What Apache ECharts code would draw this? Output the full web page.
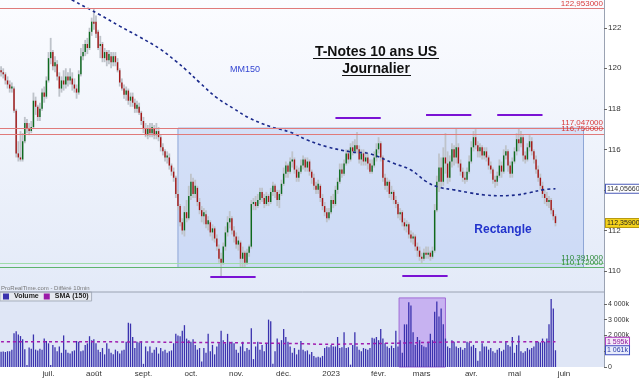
<!DOCTYPE html>
<html>
<head>
<meta charset="utf-8">
<script src="https://cdn.jsdelivr.net/npm/echarts@6/dist/echarts.min.js"></script>
<style>
  html, body { margin: 0; padding: 0; background: #fff; }
  #main { width: 639px; height: 378px; }
</style>
</head>
<body>
<div id="main"></div>
<script>
// jours ouvrés depuis le 1er juin 2022 (dernière bougie = index 257)
const startDate = '2022-06-01'
const dayCount = 280
const monthNames = ['janv.', 'févr.', 'mars', 'avr.', 'mai', 'juin', 'juil.', 'août', 'sept.', 'oct.', 'nov.', 'déc.']

const opens = [
  119.9, 119.8, 119.7, 119.4, 119.2, 119.0, 119.0, 117.9, 115.8, 115.6,
  115.5, 116.4, 117.3, 117.0, 116.9, 117.1, 118.4, 118.1, 117.6, 118.0,
  118.8, 118.6, 119.4, 120.5, 120.8, 120.1, 120.2, 119.6, 119.0, 119.4,
  119.2, 119.6, 119.4, 119.5, 119.2, 119.0, 118.8, 119.7, 120.6, 120.8,
  121.2, 121.0, 121.8, 122.3, 122.3, 121.8, 121.1, 121.2, 120.5, 120.8,
  120.4, 120.6, 120.3, 120.6, 120.3, 119.9, 119.3, 119.0, 118.7, 118.9,
  118.4, 118.6, 118.3, 118.0, 118.1, 117.8, 117.4, 117.0, 116.7, 117.0,
  116.8, 117.0, 116.7, 116.9, 116.6, 116.1, 115.9, 115.6, 115.6, 115.2,
  114.9, 114.6, 113.8, 113.2, 112.4, 112.0, 112.9, 112.6, 113.7, 114.4,
  113.8, 114.1, 113.4, 113.0, 112.7, 112.8, 112.3, 112.4, 111.9, 112.1,
  111.6, 111.1, 110.6, 110.4, 111.2, 111.9, 112.4, 112.6, 112.0, 111.7,
  111.3, 111.4, 110.6, 110.9, 110.4, 110.9, 111.2, 113.3, 113.4, 113.2,
  113.5, 113.9, 113.6, 113.3, 113.7, 113.4, 113.9, 114.2, 113.9, 113.5,
  113.8, 114.3, 114.8, 115.2, 114.9, 115.4, 115.5, 115.0, 114.6, 114.9,
  115.2, 115.5, 115.1, 115.4, 114.9, 114.6, 114.2, 114.0, 114.2, 113.6,
  113.2, 112.9, 112.6, 112.9, 113.5, 113.3, 114.0, 114.4, 115.0, 114.8,
  115.3, 115.8, 115.5, 116.1, 115.9, 116.2, 116.0, 115.5, 115.8, 115.4,
  115.6, 115.3, 114.9, 115.2, 115.6, 116.0, 116.3, 115.6, 114.6, 114.2,
  114.4, 113.8, 113.9, 113.5, 113.3, 112.8, 112.9, 112.4, 112.2, 112.3,
  111.8, 111.6, 111.7, 111.2, 111.0, 110.7, 110.6, 110.9, 110.8, 110.9,
  110.7, 111.0, 113.0, 114.4, 115.1, 114.4, 115.6, 115.3, 114.6, 115.4,
  116.0, 115.6, 116.1, 115.3, 114.9, 114.6, 114.5, 114.9, 115.4, 116.1,
  116.6, 116.2, 115.9, 116.1, 115.7, 115.9, 115.6, 115.2, 115.0, 114.5,
  114.4, 114.7, 115.2, 114.9, 115.7, 115.9, 115.2, 114.8, 115.4, 115.9,
  116.5, 116.3, 116.6, 115.7, 115.5, 116.1, 116.4, 115.9, 115.5, 115.0,
  114.6, 114.2, 113.8, 113.6, 113.4, 113.5, 113.0, 112.7
]
const closes = [
  119.8, 119.7, 119.4, 119.2, 119.0, 119.1, 117.9, 115.8, 115.6, 115.5,
  116.4, 117.3, 117.0, 116.9, 117.1, 118.4, 118.1, 117.6, 118.0, 118.8,
  118.6, 119.4, 120.5, 120.8, 120.1, 120.3, 119.6, 119.0, 119.4, 119.2,
  119.6, 119.4, 119.6, 119.2, 119.0, 118.8, 119.7, 120.6, 120.8, 121.2,
  121.0, 121.8, 122.3, 122.2, 121.7, 121.0, 121.2, 120.5, 120.8, 120.4,
  120.7, 120.3, 120.6, 120.3, 119.9, 119.3, 119.0, 118.7, 118.9, 118.4,
  118.6, 118.3, 118.0, 118.2, 117.8, 117.4, 117.0, 116.7, 117.0, 116.8,
  117.1, 116.7, 116.9, 116.6, 116.1, 115.9, 115.6, 115.7, 115.2, 114.9,
  114.6, 113.8, 113.2, 112.4, 112.0, 112.9, 112.6, 113.7, 114.4, 113.8,
  114.2, 113.4, 113.0, 112.7, 112.9, 112.3, 112.5, 111.9, 112.1, 111.6,
  111.2, 110.6, 110.4, 111.2, 111.9, 112.4, 112.6, 112.0, 111.7, 111.3,
  111.5, 110.6, 110.9, 110.4, 110.9, 111.2, 113.3, 113.4, 113.2, 113.5,
  113.9, 113.6, 113.3, 113.7, 113.4, 113.9, 114.2, 113.9, 113.5, 113.8,
  114.3, 114.8, 115.2, 114.9, 115.4, 115.5, 115.0, 114.6, 114.9, 115.2,
  115.5, 115.1, 115.4, 114.9, 114.6, 114.2, 114.0, 114.3, 113.6, 113.2,
  112.9, 112.6, 112.9, 113.5, 113.3, 114.0, 114.4, 115.0, 114.8, 115.3,
  115.8, 115.5, 116.1, 115.9, 116.2, 116.0, 115.5, 115.8, 115.4, 115.6,
  115.3, 114.9, 115.2, 115.6, 116.0, 116.3, 115.6, 114.6, 114.2, 114.4,
  113.8, 113.9, 113.5, 113.3, 112.8, 112.9, 112.4, 112.2, 112.3, 111.8,
  111.6, 111.7, 111.2, 111.0, 110.7, 110.6, 110.9, 110.8, 110.9, 110.7,
  111.0, 113.0, 114.4, 115.1, 114.4, 115.6, 115.3, 114.6, 115.4, 116.0,
  115.6, 116.1, 115.3, 114.9, 114.6, 114.5, 114.9, 115.4, 116.1, 116.6,
  116.2, 115.9, 116.1, 115.7, 115.9, 115.6, 115.2, 115.0, 114.5, 114.4,
  114.7, 115.2, 114.9, 115.7, 115.9, 115.2, 114.8, 115.4, 115.9, 116.5,
  116.3, 116.6, 115.7, 115.5, 116.1, 116.4, 115.9, 115.5, 115.0, 114.6,
  114.2, 113.8, 113.6, 113.4, 113.5, 113.0, 112.7, 112.359
]
const lows = [
  119.6, 119.5, 119.2, 119.0, 118.8, 118.8, 117.8, 115.6, 115.4, 115.4,
  115.4, 116.3, 116.8, 116.7, 116.8, 117.0, 117.7, 117.4, 117.4, 117.9,
  118.3, 118.5, 119.3, 120.2, 119.9, 119.8, 119.4, 118.6, 118.8, 118.9,
  119.0, 119.1, 119.2, 118.9, 118.8, 118.5, 118.7, 119.6, 120.4, 120.6,
  120.7, 120.9, 121.6, 121.9, 121.5, 120.9, 120.5, 120.3, 120.3, 120.1,
  120.2, 120.0, 120.1, 120.1, 119.8, 119.1, 118.9, 118.5, 118.4, 118.2,
  118.1, 118.1, 117.8, 117.8, 117.7, 117.2, 116.8, 116.6, 116.5, 116.6,
  116.6, 116.5, 116.5, 116.4, 115.9, 115.7, 115.4, 115.3, 115.0, 114.7,
  114.4, 113.6, 113.0, 112.2, 111.8, 111.7, 112.4, 112.5, 113.5, 113.6,
  113.6, 113.2, 112.8, 112.4, 112.3, 112.1, 112.0, 111.7, 111.5, 111.4,
  111.0, 110.4, 109.7, 110.3, 111.0, 111.7, 112.1, 111.8, 111.4, 111.1,
  111.0, 110.2, 110.15, 110.2, 110.3, 110.7, 111.1, 113.0, 113.0, 113.1,
  113.3, 113.4, 113.1, 113.2, 113.2, 113.3, 113.7, 113.6, 113.2, 113.1,
  113.7, 114.2, 114.6, 114.6, 114.8, 115.1, 114.8, 114.4, 114.4, 114.8,
  115.0, 114.9, 114.9, 114.7, 114.3, 114.0, 113.8, 113.8, 113.4, 113.0,
  112.7, 112.4, 112.5, 112.8, 113.1, 113.2, 113.8, 114.3, 114.6, 114.7,
  115.2, 115.3, 115.4, 115.7, 115.8, 115.8, 115.3, 115.2, 115.2, 115.2,
  115.0, 114.8, 114.8, 115.1, 115.4, 115.8, 115.4, 114.4, 114.0, 113.9,
  113.6, 113.5, 113.3, 113.1, 112.6, 112.5, 112.2, 112.0, 111.9, 111.6,
  111.4, 111.3, 111.0, 110.7, 110.5, 110.39, 110.5, 110.6, 110.6, 110.5,
  110.6, 110.9, 112.9, 113.9, 114.1, 114.2, 114.8, 114.3, 114.4, 115.1,
  115.2, 115.3, 115.1, 114.7, 114.4, 114.3, 114.4, 114.8, 115.3, 115.9,
  116.0, 115.6, 115.6, 115.5, 115.5, 115.4, 115.0, 114.8, 114.3, 114.1,
  114.2, 114.6, 114.6, 114.8, 115.5, 114.9, 114.6, 114.6, 115.3, 115.7,
  115.9, 116.1, 115.4, 115.3, 115.4, 115.9, 115.7, 115.3, 114.8, 114.4,
  114.0, 113.6, 113.3, 113.2, 113.1, 112.8, 112.5, 112.2
]
const highs = [
  120.1, 120.0, 119.8, 119.6, 119.4, 119.3, 119.1, 118.0, 116.4, 116.9,
  116.8, 117.6, 117.5, 117.3, 117.4, 118.8, 118.6, 118.2, 118.3, 119.0,
  119.1, 119.6, 120.8, 121.5, 120.9, 120.6, 120.4, 119.8, 119.6, 119.9,
  120.0, 119.8, 120.0, 119.8, 119.5, 119.2, 119.9, 121.0, 121.2, 121.4,
  121.5, 122.0, 122.5, 122.95, 122.6, 121.9, 121.6, 121.3, 121.0, 120.9,
  120.9, 120.8, 120.8, 120.8, 120.5, 120.0, 119.5, 119.2, 119.1, 119.0,
  118.8, 118.8, 118.5, 118.4, 118.3, 117.9, 117.6, 117.3, 117.2, 117.3,
  117.3, 117.2, 117.3, 117.1, 116.7, 116.3, 116.0, 115.9, 115.8, 115.3,
  115.1, 114.7, 114.0, 113.3, 112.6, 113.2, 113.5, 114.2, 114.8, 114.6,
  114.5, 114.2, 113.6, 113.2, 113.1, 113.0, 112.7, 112.5, 112.3, 112.2,
  111.8, 111.3, 110.9, 111.4, 112.2, 112.7, 112.95, 112.7, 112.2, 111.9,
  111.7, 111.5, 111.2, 111.0, 111.1, 111.3, 113.5, 113.6, 113.7, 113.8,
  114.1, 114.1, 113.8, 113.9, 113.8, 114.1, 114.4, 114.3, 114.0, 114.0,
  114.5, 115.1, 115.4, 115.3, 115.6, 115.9, 115.6, 115.2, 115.1, 115.5,
  115.7, 115.6, 115.6, 115.5, 115.0, 114.8, 114.4, 114.5, 114.3, 113.8,
  113.4, 113.1, 113.1, 113.7, 113.8, 114.2, 114.6, 115.3, 115.3, 115.5,
  116.0, 116.0, 116.3, 116.4, 116.5, 116.85, 116.2, 116.0, 116.0, 115.9,
  115.8, 115.5, 115.5, 115.9, 116.3, 116.6, 116.4, 115.7, 114.8, 114.6,
  114.5, 114.2, 114.0, 113.7, 113.4, 113.1, 113.0, 112.6, 112.5, 112.4,
  112.0, 111.9, 111.8, 111.4, 111.2, 110.9, 111.1, 111.2, 111.2, 111.0,
  111.2, 113.3, 114.7, 115.8, 115.6, 116.1, 116.8, 115.9, 115.7, 116.3,
  116.2, 117.05, 116.3, 115.5, 115.1, 114.9, 115.1, 115.7, 116.4, 116.9,
  117.0, 116.4, 116.3, 116.2, 116.1, 116.1, 115.7, 115.4, 115.1, 114.7,
  114.9, 115.5, 115.4, 116.0, 116.2, 116.0, 115.4, 115.6, 116.1, 116.8,
  117.05, 116.9, 116.7, 115.9, 116.3, 116.7, 116.6, 116.0, 115.7, 115.2,
  114.8, 114.4, 114.0, 113.9, 113.7, 113.6, 113.1, 112.8
]
// volume en milliers de contrats
const volumes = [
  960, 980, 950, 1000, 1000, 1100, 2130, 2270, 2060, 1960,
  1750, 1120, 120, 1230, 1150, 2060, 1100, 1050, 1150, 1100,
  1800, 1650, 1500, 120, 1400, 1250, 1000, 1300, 900, 2000,
  1100, 900, 850, 1000, 1050, 1650, 1600, 1000, 1050, 1400,
  1500, 1950, 1700, 1750, 1500, 1100, 950, 1200, 800, 1500,
  1150, 900, 800, 1100, 1000, 850, 1050, 1100, 1600, 2800,
  2750, 1900, 1200, 1600, 1550, 1650, 200, 1300, 1000, 1300,
  900, 1100, 1250, 850, 1200, 1000, 1100, 900, 1000, 1050,
  1500, 2100, 2000, 1950, 2300, 2650, 1800, 1700, 1600, 1750,
  1400, 1100, 1200, 350, 1200, 900, 2100, 1000, 1400, 800,
  1300, 1500, 2300, 1700, 1500, 2100, 1600, 1600, 1500, 1100,
  900, 1300, 1600, 1000, 1200, 1100, 2450, 500, 1300, 1600,
  1100, 1400, 1000, 1500, 3000, 2900, 200, 1000, 1800, 1500,
  1700, 2400, 1900, 1600, 1300, 900, 1200, 800, 1100, 1650,
  1100, 1000, 1050, 800, 950, 700, 600, 650, 600, 700,
  1200, 1300, 1250, 1400, 1300, 1300, 1900, 1200, 1250, 2200,
  1200, 1250, 150, 1400, 2200, 1300, 1100, 1000, 1200, 1150,
  1100, 1200, 1850, 1800, 1900, 1700, 2400, 1800, 1500, 1300,
  1200, 1350, 1200, 2300, 1300, 1700, 900, 2700, 2700, 4100,
  3900, 2200, 1400, 1900, 1700, 1400, 1300, 1250, 1600, 2100,
  1700, 3500, 4150, 3200, 3700, 2700, 1800, 1300, 1200, 1700,
  1600, 1300, 1200, 1250, 1100, 1200, 1600, 1550, 1300, 1400,
  1200, 400, 1000, 1500, 1300, 1300, 1100, 1200, 1000, 900,
  1100, 1200, 1000, 1100, 1600, 1400, 1300, 1900, 900, 1400,
  2000, 1000, 900, 1000, 1200, 1100, 1200, 1300, 1600, 1600,
  1550, 1800, 1600, 1800, 2700, 4300, 3700, 1061
]

// moyenne mobile 150 jours
const mmIdx = [28, 33, 46, 55, 64, 74, 81, 86, 92, 100, 108, 115, 125, 134, 142, 151, 162, 171, 182, 190, 197, 203, 210, 217, 224, 231, 239, 245, 251, 257]
const mmVal = [123.7, 123.37, 122.63, 122.08, 121.56, 120.93, 120.35, 119.9, 119.3, 118.55, 118.0, 117.55, 117.12, 116.85, 116.46, 116.13, 115.88, 115.78, 115.31, 114.98, 114.42, 114.13, 114.0, 113.86, 113.75, 113.71, 113.75, 113.86, 114.0, 114.0566]
// SMA 150 du volume
const volSmaIdx = [0, 69, 139, 148, 179, 210, 257]
const volSmaVal = [1606, 1580, 1480, 1440, 1500, 1580, 1595]

const priceTicks = [110, 112, 114, 116, 118, 120, 122]
const volTicks = [0, 1000, 2000, 3000, 4000]
const volLabels = [0, 2000, 3000, 4000]

// niveaux horizontaux
const resistances = [122.953, 117.047, 116.75]
const supports = [110.391, 110.172]

// rectangle et marques des sommets / creux (index de jour, niveau)
const rectFrom = [82, 117.047]
const rectTo = [270, 110.172]
const topMarks = [[155, 176, 117.56], [197, 218, 117.73], [230, 251, 117.73]]
const bottomMarks = [[97, 118, 109.69], [186, 207, 109.75]]
const volHighlight = [[185, 4375], [207, 0]]

const FONT = 'Liberation Sans, Arial, sans-serif'

const categories = []
const d = new Date(startDate + 'T00:00:00Z')
while (categories.length < dayCount) {
  const wd = d.getUTCDay()
  if (wd !== 0 && wd !== 6) categories.push(d.toISOString().slice(0, 10))
  d.setUTCDate(d.getUTCDate() + 1)
}
const monthStart = {}
categories.forEach((c, i) => {
  if (i > 0 && c.slice(5, 7) !== categories[i - 1].slice(5, 7)) {
    const m = +c.slice(5, 7)
    monthStart[i] = m === 1 ? c.slice(0, 4) : monthNames[m - 1]
  }
})

const candleData = closes.map((c, i) => [i, opens[i], c, lows[i], highs[i]])
const fmt = v => v.toFixed(6).replace('.', ',')
const fmtK = v => {
  const s = String(Math.round(v))
  return (s.length > 3 ? s.slice(0, -3) + ' ' + s.slice(-3) : s) + 'k'
}

function renderCandle (params, api) {
  const i = api.value(0)
  const o = api.value(1)
  const c = api.value(2)
  const top = api.coord([i, api.value(4)])
  const bot = api.coord([i, api.value(3)])
  const po = api.coord([i, o])
  const pc = api.coord([i, c])
  const x = top[0]
  return {
    type: 'group',
    children: [
      { type: 'rect', shape: { x: x - 0.9, y: top[1], width: 1.8, height: bot[1] - top[1] }, style: { fill: '#bec3ca' } },
      {
        type: 'rect',
        shape: { x: x - 0.7, y: Math.min(po[1], pc[1]), width: 1.4, height: Math.max(1, Math.abs(po[1] - pc[1])) },
        style: { fill: c >= o ? '#0d6a1e' : '#a41717' }
      }
    ]
  }
}

const levelLines = [
  ...resistances.map(v => ({
    yAxis: v,
    lineStyle: { color: '#e07a7a', width: 1, type: 'solid' },
    label: { show: true, position: 'insideEndTop', formatter: fmt(v), color: '#d83a3a', fontSize: 8, fontFamily: FONT, distance: [1, 1] }
  })),
  ...supports.map((v, k) => ({
    yAxis: v,
    lineStyle: { color: k === 0 ? '#9fdcaa' : '#5fb36d', width: 1, type: 'solid' },
    label: { show: true, position: 'insideEndTop', formatter: fmt(v), color: '#2e8a3a', fontSize: 8, fontFamily: FONT, distance: [1, 1] }
  }))
]
const markSegments = [...topMarks, ...bottomMarks].map(m => [
  { coord: [m[0], m[2]], lineStyle: { color: '#7a12d4', width: 2, type: 'solid' }, label: { show: false } },
  { coord: [m[1], m[2]] }
])

const chart = echarts.init(document.getElementById('main'))
chart.setOption({
  animation: false,
  backgroundColor: '#ffffff',
  textStyle: { fontFamily: FONT },
  legend: {
    left: 0,
    top: 292,
    data: ['Volume', 'SMA (150)'],
    icon: 'rect',
    itemWidth: 6,
    itemHeight: 6,
    itemGap: 5,
    padding: [1, 3],
    backgroundColor: '#e6e9f0',
    borderColor: '#a7afbd',
    borderWidth: 1,
    textStyle: { fontSize: 7, fontWeight: 'bold', color: '#222', fontFamily: FONT },
    selectedMode: false
  },
  grid: [
    {
      left: 0, top: 0, width: 604, height: 292,
      show: true, borderWidth: 0,
      backgroundColor: { type: 'linear', x: 0, y: 0, x2: 0, y2: 1, colorStops: [{ offset: 0, color: '#fbfcff' }, { offset: 1, color: '#e3eaf8' }] }
    },
    { left: 0, top: 292, width: 604, height: 76, show: true, borderWidth: 0, backgroundColor: '#dfe6f6' }
  ],
  xAxis: [
    { type: 'category', gridIndex: 0, data: categories, show: false },
    {
      type: 'category', gridIndex: 1, data: categories,
      axisLine: { show: false }, axisTick: { show: false },
      axisLabel: {
        interval: i => monthStart[i] !== undefined,
        formatter: (v, i) => monthStart[i] || '',
        fontSize: 8, color: '#333', margin: 3, fontFamily: FONT
      }
    }
  ],
  yAxis: [
    {
      type: 'value', gridIndex: 0, position: 'right', min: 108.96, max: 123.37,
      splitLine: { show: false },
      axisLine: { show: true, lineStyle: { color: '#9aa2b2' } },
      axisTick: { show: true, length: 3, customValues: priceTicks, lineStyle: { color: '#666' } },
      axisLabel: { customValues: priceTicks, fontSize: 8, color: '#333', margin: 4, fontFamily: FONT }
    },
    {
      type: 'value', gridIndex: 1, position: 'right', min: 0, max: 4750,
      splitLine: { show: false },
      axisLine: { show: true, lineStyle: { color: '#9aa2b2' } },
      axisTick: { show: true, length: 3, customValues: volTicks, lineStyle: { color: '#666' } },
      axisLabel: { customValues: volLabels, fontSize: 7, color: '#333', margin: 4, fontFamily: FONT, formatter: v => v === 0 ? '0' : fmtK(v) }
    }
  ],
  series: [
    {
      name: 'MM150',
      type: 'line',
      xAxisIndex: 0,
      yAxisIndex: 0,
      data: mmIdx.map((x, k) => [x, mmVal[k]]),
      smooth: 0.4,
      showSymbol: false,
      clip: true,
      z: 4,
      lineStyle: { color: '#1b2a8c', width: 1.6, type: [3, 3] },
      markArea: {
        silent: true,
        itemStyle: { color: 'rgba(150,180,240,0.3)', borderColor: '#8ea6d6', borderWidth: 1 },
        data: [[{ coord: rectFrom }, { coord: rectTo }]]
      },
      markLine: {
        silent: true,
        symbol: 'none',
        data: [...levelLines, ...markSegments]
      }
    },
    {
      name: 'T-Notes',
      type: 'custom',
      xAxisIndex: 0,
      yAxisIndex: 0,
      renderItem: renderCandle,
      encode: { x: 0, y: [1, 2, 3, 4] },
      data: candleData,
      clip: true,
      z: 3
    },
    {
      name: 'Volume',
      type: 'bar',
      xAxisIndex: 1,
      yAxisIndex: 1,
      data: volumes,
      barWidth: 1.3,
      itemStyle: { color: '#3a32ae' },
      markArea: {
        silent: true,
        itemStyle: { color: 'rgba(170,115,235,0.45)', borderColor: '#a06bd6', borderWidth: 1 },
        data: [[{ coord: volHighlight[0] }, { coord: volHighlight[1] }]]
      }
    },
    {
      name: 'SMA (150)',
      type: 'line',
      xAxisIndex: 1,
      yAxisIndex: 1,
      data: volSmaIdx.map((x, k) => [x, volSmaVal[k]]),
      smooth: 0.4,
      showSymbol: false,
      itemStyle: { color: '#9a1aa8' },
      lineStyle: { color: '#a01cb0', width: 1.5, type: [3, 3] },
      z: 4
    }
  ]
})

// étiquettes de valeur sur l'axe de droite
const mmLast = mmVal[mmVal.length - 1]
const lastClose = closes[closes.length - 1]
const lastVol = volumes[volumes.length - 1]
const volSmaLast = volSmaVal[volSmaVal.length - 1]
const yPix = (axis, v) => chart.convertToPixel({ yAxisIndex: axis }, v)
const box = (y, text, fill, stroke, color) => ({
  type: 'text', x: 606, y: y, z: 10,
  style: {
    text: text, fontSize: 7, fontFamily: FONT, fill: color,
    backgroundColor: fill, borderColor: stroke, borderWidth: 1, padding: [1, 1, 0, 1],
    align: 'left', verticalAlign: 'middle'
  }
})

chart.setOption({
  graphic: [
    { type: 'line', shape: { x1: 0, y1: 292, x2: 605, y2: 292 }, style: { stroke: '#9aa2b2', lineWidth: 1 }, z: 5 },
    { type: 'text', x: 376, y: 52, z: 10, style: { text: 'T-Notes 10 ans US', fontSize: 14, fontWeight: 'bold', fontFamily: FONT, fill: '#111', align: 'center', verticalAlign: 'middle' } },
    { type: 'text', x: 376, y: 69, z: 10, style: { text: 'Journalier', fontSize: 14, fontWeight: 'bold', fontFamily: FONT, fill: '#111', align: 'center', verticalAlign: 'middle' } },
    { type: 'line', shape: { x1: 313, y1: 58.5, x2: 439, y2: 58.5 }, style: { stroke: '#111', lineWidth: 1 }, z: 10 },
    { type: 'line', shape: { x1: 342, y1: 75.5, x2: 411, y2: 75.5 }, style: { stroke: '#111', lineWidth: 1 }, z: 10 },
    { type: 'text', x: 245, y: 70, z: 10, style: { text: 'MM150', fontSize: 9, fontFamily: FONT, fill: '#3446d2', align: 'center', verticalAlign: 'middle' } },
    { type: 'text', x: 503, y: 230, z: 10, style: { text: 'Rectangle', fontSize: 12, fontWeight: 'bold', fontFamily: FONT, fill: '#2233cc', align: 'center', verticalAlign: 'middle' } },
    { type: 'text', x: 1, y: 288, z: 10, style: { text: 'ProRealTime.com - Différé 10min', fontSize: 6, fontFamily: FONT, fill: '#777', align: 'left', verticalAlign: 'middle' } },
    box(yPix(0, mmLast), fmt(mmLast), '#ffffff', '#4a5ab8', '#333'),
    box(yPix(0, lastClose), fmt(lastClose), '#f4d21c', '#b89a10', '#222'),
    box(yPix(1, volSmaLast), fmtK(volSmaLast), '#f4e8f8', '#b040c0', '#8a1a9a'),
    box(yPix(1, lastVol), fmtK(lastVol), '#e8ecfb', '#4050c0', '#2a3aa8')
  ]
})
</script>
</body>
</html>
